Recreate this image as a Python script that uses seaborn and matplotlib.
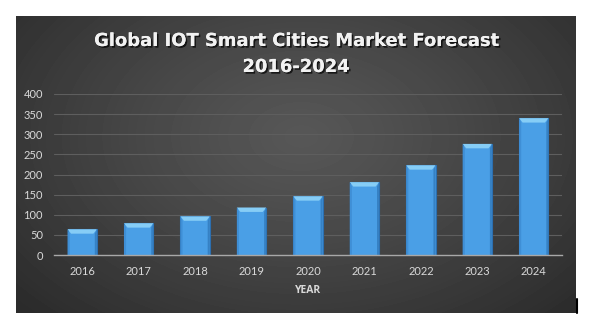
import numpy as np
import pandas as pd
import matplotlib
matplotlib.use("Agg")
import matplotlib.pyplot as plt
import seaborn as sns
from matplotlib.patches import Polygon
from matplotlib.lines import Line2D
import matplotlib.patheffects as pe

# ---- data ----
years = ["2016", "2017", "2018", "2019", "2020", "2021", "2022", "2023", "2024"]
values = [64, 79, 96, 118, 146, 181, 223, 276, 340]
yticks = [0, 50, 100, 150, 200, 250, 300, 350, 400]
title_lines = ["Global IOT Smart Cities Market Forecast", "2016-2024"]
xlabel = "YEAR"

sns.set_theme(style="dark")
plt.rcParams['font.family'] = ['Lato', 'DejaVu Sans']

W, H = 616, 335
fig = plt.figure(figsize=(W / 100, H / 100), dpi=100, facecolor="white")

# ---- background panel with radial gradient ----
px0, py0, px1, py1 = 16, 16, 576, 313
bg = fig.add_axes([px0 / W, 1 - py1 / H, (px1 - px0) / W, (py1 - py0) / H])
ny, nx = py1 - py0, px1 - px0
yy, xx = np.mgrid[0:ny, 0:nx]
cx, cy = 285, 120
d = np.sqrt(((xx - cx) / 380.0) ** 2 + ((yy - cy) / 250.0) ** 2)
val = 0.34 - 0.17 * np.clip(d, 0, 1) ** 1.2
bg.imshow(val, cmap="gray", vmin=0, vmax=1, aspect="auto", interpolation="bilinear")
bg.set_axis_off()

# ---- main axes ----
ax = fig.add_axes([54 / W, 1 - 255 / H, (562 - 54) / W, (255 - 94) / H])
ax.set_facecolor("none")
df = pd.DataFrame({"year": years, "value": values})
sns.barplot(data=df, x="year", y="value", color="#4a9fe6", saturation=1,
            width=0.52, edgecolor="#2c6fb0", linewidth=0.8, ax=ax, zorder=3)

ax.set_ylim(0, 400)
ax.set_xlim(-0.5, len(years) - 0.5)

# bevel highlight on top of each bar
dy = 11.0
for p in ax.patches:
    x0, w, h = p.get_x(), p.get_width(), p.get_height()
    dx = w * 0.12
    top = Polygon([(x0, h), (x0 + w, h), (x0 + w - dx, h - dy), (x0 + dx, h - dy)],
                  closed=True, facecolor="#86cdf6", edgecolor="none", zorder=4)
    ax.add_patch(top)
    left = Polygon([(x0, 0), (x0, h), (x0 + dx * 0.6, h - dy), (x0 + dx * 0.6, 0)],
                   closed=True, facecolor="#3f8fd6", edgecolor="none", zorder=4)
    ax.add_patch(left)
    right = Polygon([(x0 + w, 0), (x0 + w, h), (x0 + w - dx * 0.6, h - dy), (x0 + w - dx * 0.6, 0)],
                    closed=True, facecolor="#3681c4", edgecolor="none", zorder=4)
    ax.add_patch(right)

ax.set_yticks(yticks)
ax.yaxis.grid(True, color="#5e5e5e", linewidth=0.8, zorder=0)
ax.xaxis.grid(False)
for s in ["left", "right", "top"]:
    ax.spines[s].set_visible(False)
ax.spines["bottom"].set_color("#a8a8a8")
ax.spines["bottom"].set_linewidth(1.0)
ax.spines["bottom"].set_zorder(5)
ax.tick_params(axis="both", length=0, colors="#d9d9d9", labelsize=8)
ax.tick_params(axis="y", pad=8)
ax.tick_params(axis="x", pad=8)
ax.set_ylabel("")
ax.set_xlabel(xlabel, color="#d9d9d9", fontsize=7.5, fontweight="bold",
              family=["Open Sans", "DejaVu Sans"], labelpad=6)

# ---- title ----
shadow = [pe.withSimplePatchShadow(offset=(1.2, -1.2), shadow_rgbFace="black", alpha=0.7), pe.Normal()]
fig.text(296 / W, 1 - 41 / H, title_lines[0], ha="center", va="center", color="#f2f2f2",
         fontsize=12.9, fontweight="bold", family=["DejaVu Sans"], path_effects=shadow)
fig.text(296 / W, 1 - 67 / H, title_lines[1], ha="center", va="center", color="#f2f2f2",
         fontsize=12.9, fontweight="bold", family=["DejaVu Sans"], path_effects=shadow)

# small dark mark at panel's lower-right edge
fig.add_artist(Line2D([576.5 / W, 576.5 / W], [1 - 313 / H, 1 - 299 / H], color="black", lw=1.5))

fig.savefig("out.png", dpi=100, facecolor="white")
